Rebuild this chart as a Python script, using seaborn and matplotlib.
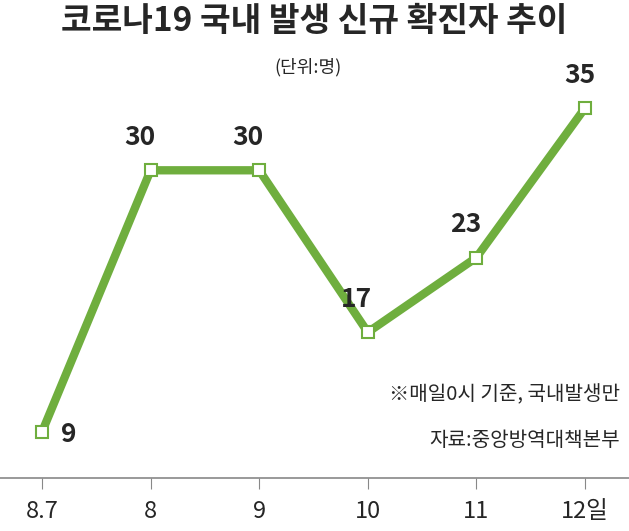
import matplotlib
matplotlib.use("Agg")
import matplotlib.pyplot as plt
import seaborn as sns

sns.set_style("white")
plt.rcParams['font.family'] = ['Noto Sans CJK KR', 'DejaVu Sans']

dates = ["8.7", "8", "9", "10", "11", "12일"]
cases = [9, 30, 30, 17, 23, 35]
green = "#6fae3e"

fig = plt.figure(figsize=(6.29, 5.31), dpi=100)
ax = fig.add_axes([0, 1 - 478 / 531, 1, (478 - 60) / 531])

x = list(range(len(dates)))
sns.lineplot(x=x, y=cases, ax=ax, color=green, linewidth=6, marker="s",
             markersize=8, markerfacecolor="white", markeredgecolor=green,
             markeredgewidth=1.5)

for i, v in enumerate(cases):
    if i == 0:
        ax.annotate(str(v), (i, v), xytext=(14, -2), textcoords="offset points",
                    ha="left", va="center", fontsize=19, fontweight="bold")
    else:
        ax.annotate(str(v), (i, v), xytext=(-8 if i < 5 else -4, 14),
                    textcoords="offset points", ha="center", va="bottom",
                    fontsize=19, fontweight="bold")

ax.set_xlim(-42 / 108.6, 5 + 44 / 108.6)
ax.set_ylim(5.31, 38.85)
for s in ["top", "right", "left"]:
    ax.spines[s].set_visible(False)
ax.spines["bottom"].set_color("#888888")
ax.spines["bottom"].set_linewidth(1.2)
ax.set_yticks([])
ax.set_xticks(x)
ax.set_xticklabels(dates, fontsize=17)
ax.tick_params(axis="x", length=8, color="#888888", pad=8, bottom=True)

fig.text(0.5, 0.99, "코로나19 국내 발생 신규 확진자 추이", ha="center", va="top",
         fontsize=24, fontweight="bold")
fig.text(0.49, 0.89, "(단위:명)", ha="center", va="top", fontsize=13)
fig.text(0.985, 1 - 395 / 531, "※매일0시 기준, 국내발생만", ha="right",
         va="center", fontsize=14.5)
fig.text(0.985, 1 - 440 / 531, "자료:중앙방역대책본부", ha="right",
         va="center", fontsize=14.5)

fig.savefig("out.png", dpi=100)
